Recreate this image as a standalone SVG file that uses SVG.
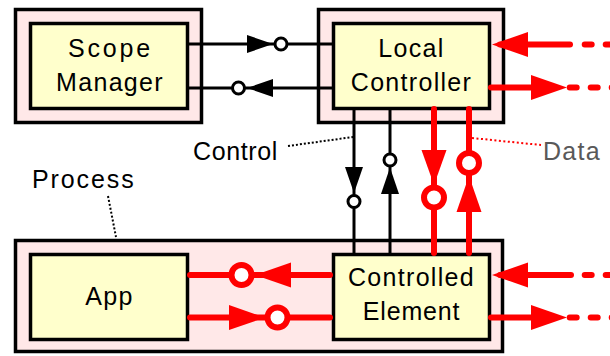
<svg xmlns="http://www.w3.org/2000/svg" width="610" height="356" viewBox="0 0 610 356">
<style>
.outer{fill:#FFE8E8;stroke:#000;stroke-width:3.5}
.inner{fill:#FFFFCC;stroke:#000;stroke-width:3.5}
.lbl{font-family:"Liberation Sans",Arial,sans-serif;font-size:25px;fill:#000;letter-spacing:1.3px}
.mid{text-anchor:middle}
.bl{stroke:#000;stroke-width:3;fill:none}
.bh{fill:#000;stroke:none}
.bc{fill:#fff;stroke:#000;stroke-width:3}
.rl{stroke:#FF0000;stroke-width:6;fill:none;stroke-linecap:round}
.rd{stroke:#FF0000;stroke-width:6;fill:none;stroke-linecap:round;stroke-dasharray:7 14}
.rh{fill:#FF0000;stroke:none}
.rc{fill:#fff;stroke:#FF0000;stroke-width:6}
.kdot{stroke:#000;stroke-width:2;fill:none;stroke-dasharray:2 2}
.rdot{stroke:#FF0000;stroke-width:2;fill:none;stroke-dasharray:2 2.5}
</style>
<g id="scope-manager">
<rect class="outer" x="15.5" y="9.5" width="186" height="113"/>
<rect class="inner" x="30.5" y="23.5" width="157" height="85"/>
<text class="lbl mid" x="110.4" y="57" style="letter-spacing:2.8px">Scope</text>
<text class="lbl mid" x="110" y="91">Manager</text>
</g>
<g id="local-controller">
<rect class="outer" x="318.5" y="9.5" width="185" height="113"/>
<rect class="inner" x="333.5" y="23.5" width="156" height="85"/>
<text class="lbl mid" x="411.5" y="57">Local</text>
<text class="lbl mid" x="411.5" y="91">Controller</text>
</g>
<g id="process">
<rect class="outer" x="15.5" y="240.5" width="487" height="111"/>
</g>
<g id="app">
<rect class="inner" x="30.5" y="254.5" width="157" height="85"/>
<text class="lbl mid" x="109.5" y="305">App</text>
</g>
<g id="controlled-element">
<rect class="inner" x="333.5" y="254.5" width="156" height="85"/>
<text class="lbl mid" x="411.5" y="286">Controlled</text>
<text class="lbl mid" x="411.5" y="320" style="letter-spacing:0.8px">Element</text>
</g>
<g id="labels">
<text class="lbl" x="193" y="160" style="letter-spacing:0.6px">Control</text>
<text class="lbl" x="543" y="160" style="fill:#595959">Data</text>
<text class="lbl" x="32" y="188" style="letter-spacing:1.9px">Process</text>
<path class="kdot" d="M288 146 L353 137"/>
<path class="rdot" d="M472 138 L541 145"/>
<path class="kdot" d="M108 196 L116 237"/>
</g>
<g id="connectors">
<path class="bl" d="M189 44 H332"/>
<polygon class="bh" points="247,35 273,44 247,53"/>
<circle class="bc" cx="281" cy="44" r="6"/>
<path class="bl" d="M189 88 H332"/>
<polygon class="bh" points="273,79 247,88 273,97"/>
<circle class="bc" cx="238.5" cy="88" r="6"/>
<path class="bl" d="M354 109 V253"/>
<polygon class="bh" points="345,167 363,167 354,193"/>
<circle class="bc" cx="354" cy="201.5" r="6"/>
<path class="bl" d="M390 109 V253"/>
<polygon class="bh" points="390,167.5 381,194 399,194"/>
<circle class="bc" cx="390" cy="160" r="6"/>
<path class="rl" d="M434 109 V253"/>
<polygon class="rh" points="421.5,150 446.5,150 434,185"/>
<circle class="rc" cx="434" cy="197.5" r="10"/>
<path class="rl" d="M469 109 V253"/>
<polygon class="rh" points="469,176 456.5,212 481.5,212"/>
<circle class="rc" cx="469" cy="163" r="10"/>
<path class="rl" d="M190 275 H330"/>
<polygon class="rh" points="291,262.5 255,275 291,287.5"/>
<circle class="rc" cx="241.5" cy="275" r="10"/>
<path class="rl" d="M190 317.5 H330"/>
<polygon class="rh" points="229,305 265,317.5 229,330"/>
<circle class="rc" cx="277.5" cy="317.5" r="10"/>
<path class="rl" d="M500 44.5 H570"/>
<path class="rd" d="M584.7 44.5 H620"/>
<polygon class="rh" points="528,32 492,44.5 528,57"/>
<path class="rl" d="M491 87.5 H545"/>
<path class="rd" d="M569.7 87.5 H620"/>
<polygon class="rh" points="531,75 567,87.5 531,100"/>
<path class="rl" d="M500 275 H571"/>
<path class="rd" d="M584.7 275 H620"/>
<polygon class="rh" points="528,262.5 492,275 528,287.5"/>
<path class="rl" d="M491 317.5 H545"/>
<path class="rd" d="M569.7 317.5 H620"/>
<polygon class="rh" points="531,305 567,317.5 531,330"/>
</g>
</svg>
